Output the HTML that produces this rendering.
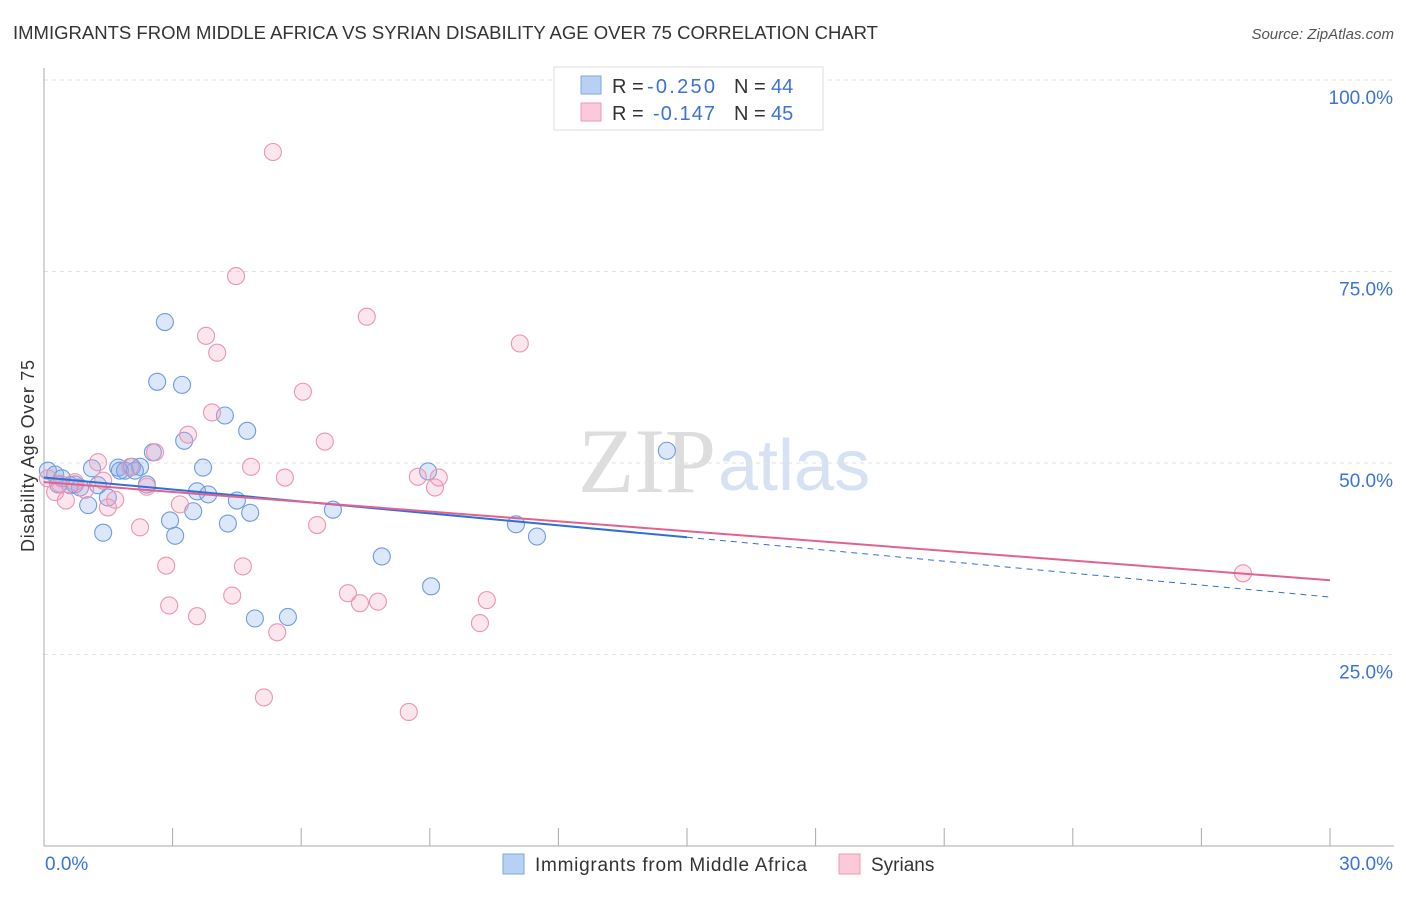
<!DOCTYPE html>
<html><head><meta charset="utf-8"><style>
body{margin:0;background:#fff;font-family:"Liberation Sans",sans-serif;}
</style></head><body>
<svg width="1406" height="892" xmlns="http://www.w3.org/2000/svg" style="font-family:'Liberation Sans',sans-serif">
<text x="13" y="39" font-size="18" fill="#333" textLength="865" lengthAdjust="spacingAndGlyphs">IMMIGRANTS FROM MIDDLE AFRICA VS SYRIAN DISABILITY AGE OVER 75 CORRELATION CHART</text>
<text x="1394" y="39" font-size="15" fill="#555" font-style="italic" text-anchor="end">Source: ZipAtlas.com</text>
<text transform="translate(34,456) rotate(-90)" font-size="18" fill="#333" text-anchor="middle" textLength="192">Disability Age Over 75</text>
<text x="716" y="492" font-size="92" fill="#ddd" text-anchor="end" font-family="Liberation Serif">ZIP</text>
<text x="718" y="490" font-size="72" fill="#d6e2f4">atlas</text>
<g id="grid"></g><g id="axes"></g><g id="pts"></g><g id="lines"></g>
<g>
<rect x="554" y="67" width="269" height="63" fill="#fff" stroke="#ddd"/>
<rect x="581" y="76" width="20" height="18" fill="#b7d0f3" stroke="#7ea6e6"/>
<rect x="581" y="103" width="20" height="18" fill="#fbc9d8" stroke="#ee9ab4"/>
<text x="612" y="93" font-size="20" fill="#333">R =</text>
<text x="647" y="93" font-size="20" fill="#3b73d4" textLength="68">-0.250</text>
<text x="734" y="93" font-size="20" fill="#333">N =</text>
<text x="771" y="93" font-size="20" fill="#3b73d4">44</text>
<text x="612" y="120" font-size="20" fill="#333">R =</text>
<text x="653" y="120" font-size="20" fill="#3b73d4" textLength="62">-0.147</text>
<text x="734" y="120" font-size="20" fill="#333">N =</text>
<text x="771" y="120" font-size="20" fill="#3b73d4">45</text>
</g>
<g>
<rect x="503" y="854" width="21" height="20" fill="#b7d0f3" stroke="#7ea6e6"/>
<text x="535" y="871" font-size="19" fill="#333" textLength="272">Immigrants from Middle Africa</text>
<rect x="839" y="854" width="21" height="20" fill="#fbc9d8" stroke="#ee9ab4"/>
<text x="871" y="871" font-size="19" fill="#333">Syrians</text>
</g>
</svg>
<script>
const xTicks=[0,3,6,9,12,15,18,21,24,27,30];
const yTicks=[25,50,75,100];
const yTickLabels=["25.0%","50.0%","75.0%","100.0%"];
const blueX=[0.09,0.26,0.42,0.61,0.84,1.03,1.12,1.26,1.38,1.49,1.73,1.89,2.05,2.24,2.40,2.54,2.64,2.82,2.94,3.06,3.22,3.27,3.48,3.57,3.71,3.83,4.22,4.29,4.50,4.74,4.81,4.92,5.69,6.74,7.88,8.96,9.03,11.01,11.50,14.53,0.33,0.72,2.12,1.77];
const blueY=[49.0,48.5,48.0,47.1,46.8,44.5,49.3,47.1,40.9,45.5,49.4,49.0,49.5,49.5,47.2,51.4,60.6,68.4,42.5,40.5,60.2,52.9,43.7,46.3,49.4,45.9,56.2,42.1,45.1,54.2,43.5,29.7,29.9,43.9,37.8,48.9,33.9,42.0,40.4,51.6,47.2,47.2,49.0,49.0];
const pinkX=[5.34,4.48,7.53,3.78,11.10,4.04,6.04,3.92,3.36,2.59,6.55,1.26,4.83,5.62,8.72,9.21,9.12,2.01,2.40,0.51,0.26,0.96,1.66,1.49,2.24,3.17,6.37,2.85,4.64,4.39,7.09,7.79,7.37,10.33,2.92,3.57,5.44,10.17,5.13,8.51,27.97,0.37,0.72,1.38,0.09];
const pinkY=[90.6,74.4,69.1,66.6,65.6,64.4,59.3,56.6,53.7,51.4,52.8,50.1,49.5,48.1,48.2,48.1,46.8,49.5,46.9,45.1,46.2,46.5,45.2,44.2,41.6,44.6,41.9,36.6,36.5,32.7,33.0,31.9,31.7,32.1,31.4,30.0,27.9,29.1,19.4,17.5,35.6,47.3,47.5,47.7,48.0];
const blueTrend=[48.1,32.5];
const blueSolidEnd=15;
const pinkTrend=[47.5,34.7];
const NS="http://www.w3.org/2000/svg";
const X=v=>44+v/30*1286, Y=v=>846-v*7.66;
function mk(t,a,p){const e=document.createElementNS(NS,t);for(const k in a)e.setAttribute(k,a[k]);p.appendChild(e);return e;}
const grid=document.getElementById('grid'),axes=document.getElementById('axes'),pts=document.getElementById('pts'),lines=document.getElementById('lines');
yTicks.forEach((t,i)=>{
 const l=mk('line',{x1:44,x2:1394,y1:Y(t),y2:Y(t),stroke:'#e2e2e2','stroke-dasharray':'4,4'},grid);
 
 
 const tx=mk('text',{x:1393,y:Y(t)+24,'font-size':19,fill:'#3b73d4','text-anchor':'end'},grid);
 tx.textContent=yTickLabels[i];
 
 
});
const ya=mk('line',{x1:44,x2:44,y1:68,y2:846,stroke:'#aaa'},axes);


const xa=mk('line',{x1:44,x2:1394,y1:846,y2:846,stroke:'#aaa'},axes);


xTicks.forEach(t=>{
 const l=mk('line',{x1:X(t),x2:X(t),y1:828,y2:846,stroke:'#aaa'},axes);
 
 
});
const xl0=mk('text',{x:45,y:870,'font-size':19,fill:'#3b73d4'},axes);xl0.textContent='0.0%';


const xl1=mk('text',{x:1393,y:870,'font-size':19,fill:'#3b73d4','text-anchor':'end'},axes);xl1.textContent='30.0%';


blueX.forEach((x,i)=>{
 const c=mk('circle',{cx:X(x),cy:Y(blueY[i]),r:8.5,fill:'rgba(130,170,235,0.28)',stroke:'#6f9be3','stroke-width':1.1},pts);
 
 
});
pinkX.forEach((x,i)=>{
 const c=mk('circle',{cx:X(x),cy:Y(pinkY[i]),r:8.5,fill:'rgba(245,165,190,0.28)',stroke:'#ec94b0','stroke-width':1.1},pts);
 
 
});
const bAt=x=>blueTrend[0]+(blueTrend[1]-blueTrend[0])*x/30;
const b1=mk('line',{x1:X(0),y1:Y(bAt(0)),x2:X(blueSolidEnd),y2:Y(bAt(blueSolidEnd)),stroke:'#2f6fd8','stroke-width':2},lines);


const b2=mk('line',{x1:X(blueSolidEnd),y1:Y(bAt(blueSolidEnd)),x2:X(30),y2:Y(bAt(30)),stroke:'#2f6fd8','stroke-width':1,'stroke-dasharray':'6,5'},lines);


const p1=mk('line',{x1:X(0),y1:Y(pinkTrend[0]),x2:X(30),y2:Y(pinkTrend[1]),stroke:'#e0628f','stroke-width':2},lines);


</script>
</body></html>
